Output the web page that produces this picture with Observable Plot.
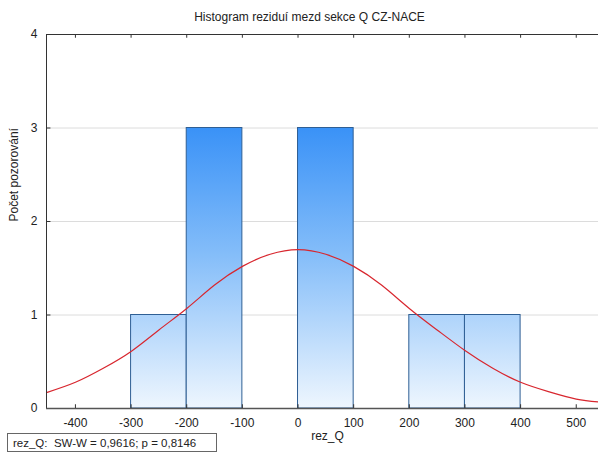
<!DOCTYPE html>
<html>
<head>
<meta charset="utf-8">
<script src="https://cdn.jsdelivr.net/npm/d3@7"></script>
<script src="https://cdn.jsdelivr.net/npm/@observablehq/plot@0.6"></script>
<style>
  html, body { margin: 0; padding: 0; background: #fff; }
  svg { display: block; }
</style>
</head>
<body>
<div id="chart"></div>
<script>
// Histogram bins of the residuals (lower edge, upper edge, count)
const binLo = [-300, -200, -100, 0, 100, 200, 300];
const binHi = [-200, -100, 0, 100, 200, 300, 400];
const counts = [1, 3, 0, 3, 0, 1, 1];

// Fitted normal curve, expected count per bin
const curveX = [-452, -400, -350, -300, -250, -200, -150, -100, -50, 0, 50, 100, 150, 200, 250, 300, 350, 400, 450, 500, 540];
const curveY = [0.17, 0.28, 0.43, 0.61, 0.84, 1.07, 1.32, 1.52, 1.65, 1.70, 1.65, 1.52, 1.32, 1.07, 0.84, 0.62, 0.43, 0.28, 0.18, 0.10, 0.07];

// Axis ticks
const xTicks = [-400, -300, -200, -100, 0, 100, 200, 300, 400, 500];
const yTicks = [0, 1, 2, 3, 4];

const titleText = "Histogram reziduí mezd sekce Q CZ-NACE";
const xLabel = "rez_Q";
const yLabel = "Počet pozorování";
const statsText = "rez_Q:  SW-W = 0,9616; p = 0,8146";

const bins = binLo.map((lo, i) => ({lo, hi: binHi[i], n: counts[i]})).filter(d => d.n > 0);
const curve = curveX.map((x, i) => ({x, y: curveY[i]}));

const font = "'Liberation Sans', Arial, sans-serif";

const plot = Plot.plot({
  width: 598,
  height: 453,
  marginTop: 34,
  marginBottom: 45,
  marginLeft: 46,
  marginRight: 0,
  style: {fontFamily: font, fontSize: "12px", color: "#222", background: "#fff"},
  x: {domain: [-452, 540], label: null, axis: null},
  y: {domain: [0, 4], label: null, axis: null},
  marks: [
    // light horizontal grid
    Plot.ruleY([1, 2, 3], {stroke: "#dcdcdc", strokeWidth: 1}),
    // bars
    Plot.rectY(bins, {x1: "lo", x2: "hi", y: "n", fill: "url(#barGrad)", stroke: "#2f5f94", strokeWidth: 1}),
    // normal curve
    Plot.line(curve, {x: "x", y: "y", stroke: "#d8262e", strokeWidth: 1.2, curve: "natural", clip: true}),
    // frame: left, top and bottom lines
    Plot.ruleX([-452], {stroke: "#333", strokeWidth: 1}),
    Plot.ruleY([4], {stroke: "#333", strokeWidth: 1}),
    Plot.ruleY([0], {stroke: "#555", strokeWidth: 1.5}),
    // inward tick marks
    Plot.ruleX(xTicks, {x: d => d, y1: 0, y2: 0.04, stroke: "#333"}),
    Plot.ruleX(xTicks, {x: d => d, y1: 3.96, y2: 4, stroke: "#333"}),
    Plot.ruleY([1, 2, 3], {y: d => d, x1: -452, x2: -444, stroke: "#333"}),
    // tick labels
    Plot.text(xTicks, {x: d => d, y: 0, dy: 15, text: d => String(d), fontSize: 12, fill: "#222"}),
    Plot.text(yTicks, {x: -452, y: d => d, dx: -9, text: d => String(d), fontSize: 12, fill: "#222", textAnchor: "end"}),
    // title and axis labels
    Plot.text([titleText], {text: d => d, frameAnchor: "top", dx: -13, dy: -22, fontSize: 12, fill: "#222"}),
    Plot.text([xLabel], {text: d => d, frameAnchor: "bottom", dx: 5, dy: 31, fontSize: 12, fill: "#222"}),
    Plot.text([yLabel], {text: d => d, frameAnchor: "left", dx: -32, rotate: -90, fontSize: 12, fill: "#222"})
  ]
});

// vertical gradient shared by all bars, in absolute chart coordinates
const ns = "http://www.w3.org/2000/svg";
const defs = document.createElementNS(ns, "defs");
const grad = document.createElementNS(ns, "linearGradient");
grad.setAttribute("id", "barGrad");
grad.setAttribute("gradientUnits", "userSpaceOnUse");
grad.setAttribute("x1", "0"); grad.setAttribute("x2", "0");
grad.setAttribute("y1", "128"); grad.setAttribute("y2", "408");
[["0", "#3a92f7"], ["0.45", "#84bdf9"], ["1", "#eef6fe"]].forEach(([o, c]) => {
  const s = document.createElementNS(ns, "stop");
  s.setAttribute("offset", o);
  s.setAttribute("stop-color", c);
  grad.appendChild(s);
});
defs.appendChild(grad);
plot.insertBefore(defs, plot.firstChild);

// statistics box in the lower-left corner
const g = document.createElementNS(ns, "g");
const box = document.createElementNS(ns, "rect");
box.setAttribute("x", "7.5"); box.setAttribute("y", "433.5");
box.setAttribute("width", "209"); box.setAttribute("height", "18");
box.setAttribute("fill", "#fff"); box.setAttribute("stroke", "#666");
const t = document.createElementNS(ns, "text");
t.setAttribute("x", "13"); t.setAttribute("y", "447");
t.setAttribute("font-size", "11.5");
t.setAttribute("fill", "#222");
t.setAttribute("text-anchor", "start");
t.textContent = statsText;
g.appendChild(box); g.appendChild(t);
plot.appendChild(g);

document.getElementById("chart").appendChild(plot);
</script>
</body>
</html>
